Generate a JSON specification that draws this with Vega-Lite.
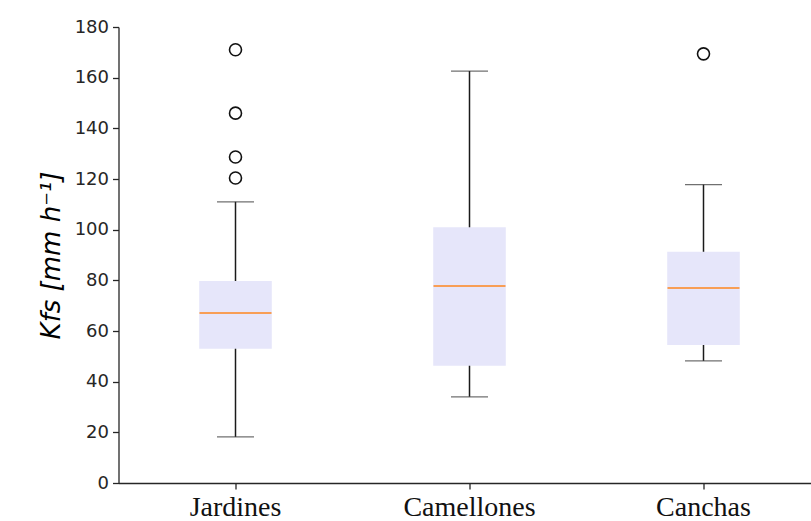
{
  "$schema": "https://vega.github.io/schema/vega-lite/v6.json",
  "width": 702,
  "height": 456,
  "autosize": "none",
  "padding": {"left": 118.5, "top": 27, "right": 0, "bottom": 38},
  "background": "white",
  "config": {
    "view": {"stroke": null},
    "axis": {"grid": false, "domainColor": "#262626", "tickColor": "#262626", "labelColor": "#262626", "domainWidth": 1.3, "tickWidth": 1.3, "tickSize": 6}
  },
  "datasets": {
    "boxes": [
      {"zona": "Jardines", "lower": 18.2, "q1": 53.0, "median": 67.1, "q3": 79.7, "upper": 111.0},
      {"zona": "Camellones", "lower": 34.0, "q1": 46.3, "median": 77.8, "q3": 101.0, "upper": 162.6},
      {"zona": "Canchas", "lower": 48.2, "q1": 54.5, "median": 77.0, "q3": 91.3, "upper": 117.8}
    ],
    "outliers": [
      {"zona": "Jardines", "kfs": 171.0},
      {"zona": "Jardines", "kfs": 146.0},
      {"zona": "Jardines", "kfs": 128.7},
      {"zona": "Jardines", "kfs": 120.4},
      {"zona": "Canchas", "kfs": 169.4}
    ]
  },
  "encoding": {
    "x": {
      "field": "zona", "type": "nominal", "sort": ["Jardines", "Camellones", "Canchas"],
      "scale": {"paddingInner": 0, "paddingOuter": 0},
      "axis": {"title": null, "labelAngle": 0, "labelFont": "Liberation Serif", "labelFontSize": 28, "labelPadding": 4, "labelColor": "#111111", "bandPosition": 0.5, "tickExtra": false}
    }
  },
  "layer": [
    {
      "data": {"name": "boxes"},
      "mark": {"type": "rule", "color": "#1a1a1a", "strokeWidth": 1.5},
      "encoding": {
        "y": {"field": "lower", "type": "quantitative", "scale": {"domain": [0, 180], "nice": false},
          "axis": {"values": [0, 20, 40, 60, 80, 100, 120, 140, 160, 180], "title": "Kfs [mm h⁻¹]", "titleFont": "DejaVu Sans", "titleFontStyle": "italic", "titleFontWeight": "normal", "titleFontSize": 26, "titleColor": "#000000", "titlePadding": 10, "labelFont": "DejaVu Sans", "labelFontSize": 18, "labelPadding": 4}},
        "y2": {"field": "upper"}
      }
    },
    {
      "data": {"name": "boxes"},
      "mark": {"type": "bar", "color": "#e6e6fa", "width": {"band": 0.31}},
      "encoding": {
        "y": {"field": "q1", "type": "quantitative"},
        "y2": {"field": "q3"}
      }
    },
    {
      "data": {"name": "boxes"},
      "mark": {"type": "tick", "color": "#333333", "size": 37, "thickness": 1.3},
      "encoding": {"y": {"field": "lower", "type": "quantitative"}}
    },
    {
      "data": {"name": "boxes"},
      "mark": {"type": "tick", "color": "#333333", "size": 37, "thickness": 1.3},
      "encoding": {"y": {"field": "upper", "type": "quantitative"}}
    },
    {
      "data": {"name": "boxes"},
      "mark": {"type": "tick", "color": "#ff7f0e", "size": 72, "thickness": 2},
      "encoding": {"y": {"field": "median", "type": "quantitative"}}
    },
    {
      "data": {"name": "outliers"},
      "mark": {"type": "point", "shape": "circle", "filled": false, "stroke": "#111111", "strokeWidth": 1.6, "size": 144, "opacity": 1},
      "encoding": {"y": {"field": "kfs", "type": "quantitative"}}
    },
    {
      "mark": {"type": "rule", "color": "#262626", "strokeWidth": 1.3},
      "encoding": {"y": {"datum": 180, "type": "quantitative"}}
    }
  ]
}
